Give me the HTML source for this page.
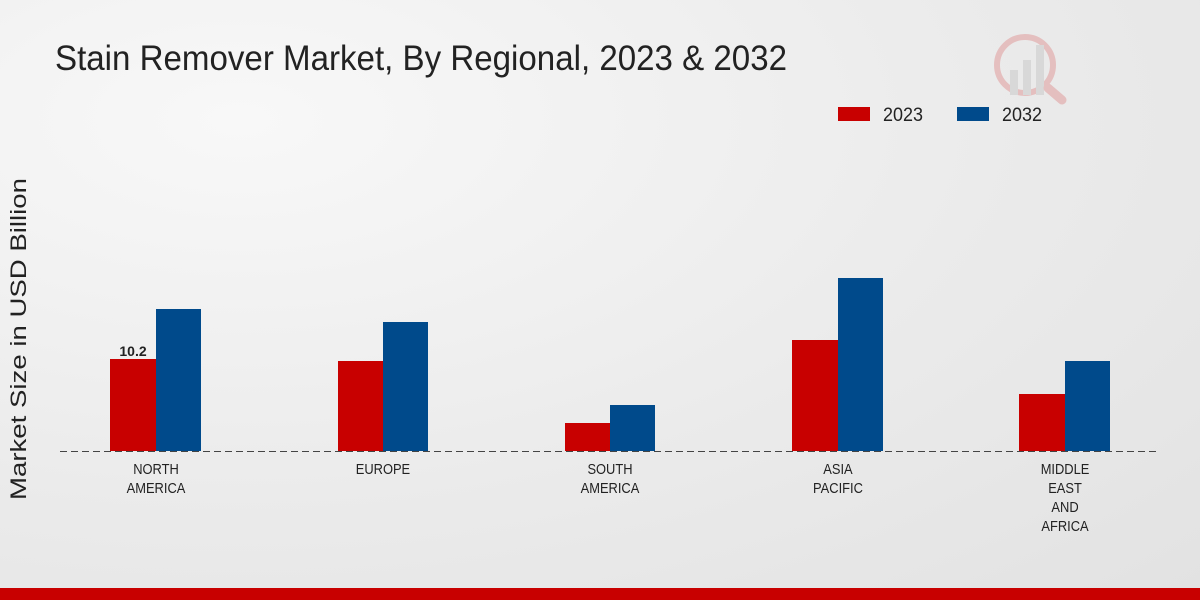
<!DOCTYPE html>
<html><head><meta charset="utf-8"><style>
html,body{margin:0;padding:0;}
body{width:1200px;height:600px;overflow:hidden;background:radial-gradient(ellipse at 20% 20%,#f8f8f8 0%,#ebebeb 55%,#e2e2e2 100%);font-family:"Liberation Sans",sans-serif;}
</style></head><body>
<svg width="1200" height="600" xmlns="http://www.w3.org/2000/svg" style="position:absolute;left:0;top:0">
<text x="55" y="70" font-size="35" fill="#222" textLength="732" lengthAdjust="spacingAndGlyphs">Stain Remover Market, By Regional, 2023 &amp; 2032</text>
<g opacity="0.18">
<circle cx="1025" cy="65" r="28" fill="none" stroke="#c00" stroke-width="6"/>
<rect x="1010" y="70" width="8" height="25" fill="#888"/>
<rect x="1023" y="60" width="8" height="35" fill="#888"/>
<rect x="1036" y="45" width="8" height="50" fill="#888"/>
<line x1="1048" y1="88" x2="1062" y2="100" stroke="#c00" stroke-width="9" stroke-linecap="round"/>
</g>
<rect x="838" y="107" width="32" height="14" fill="#c80000"/>
<text x="883" y="121" font-size="19" fill="#222" textLength="40" lengthAdjust="spacingAndGlyphs">2023</text>
<rect x="957" y="107" width="32" height="14" fill="#004a8b"/>
<text x="1002" y="121" font-size="19" fill="#222" textLength="40" lengthAdjust="spacingAndGlyphs">2032</text>
<text transform="translate(26 339) rotate(-90)" font-size="22" fill="#222" text-anchor="middle" textLength="322" lengthAdjust="spacingAndGlyphs">Market Size in USD Billion</text>
<g>
<rect x="110" y="359" width="46" height="92" fill="#c80000"/>
<rect x="156" y="309" width="45" height="142" fill="#004a8b"/>
<rect x="338" y="361" width="45" height="90" fill="#c80000"/>
<rect x="383" y="322" width="45" height="129" fill="#004a8b"/>
<rect x="565" y="423" width="45" height="28" fill="#c80000"/>
<rect x="610" y="405" width="45" height="46" fill="#004a8b"/>
<rect x="792" y="340" width="46" height="111" fill="#c80000"/>
<rect x="838" y="278" width="45" height="173" fill="#004a8b"/>
<rect x="1019" y="394" width="46" height="57" fill="#c80000"/>
<rect x="1065" y="361" width="45" height="90" fill="#004a8b"/>
</g>
<text x="133" y="356" font-size="14" font-weight="bold" fill="#222" text-anchor="middle">10.2</text>
<line x1="60" y1="451.5" x2="1160" y2="451.5" stroke="#444" stroke-width="1" stroke-dasharray="7,4"/>
<g font-size="15" fill="#222" text-anchor="middle" transform="scale(0.86 1)">
<text x="181.4" y="474">NORTH</text><text x="181.4" y="493">AMERICA</text>
<text x="445.3" y="474">EUROPE</text>
<text x="709.3" y="474">SOUTH</text><text x="709.3" y="493">AMERICA</text>
<text x="974.4" y="474">ASIA</text><text x="974.4" y="493">PACIFIC</text>
<text x="1238.4" y="474">MIDDLE</text><text x="1238.4" y="493">EAST</text><text x="1238.4" y="512">AND</text><text x="1238.4" y="531">AFRICA</text>
</g>
<rect x="0" y="588" width="1200" height="12" fill="#c80000"/>
</svg>
</body></html>
